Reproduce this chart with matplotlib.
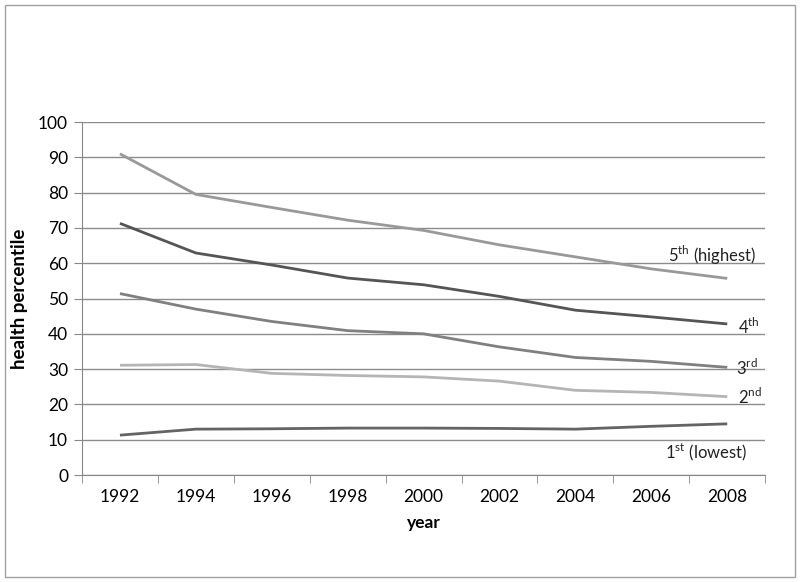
import matplotlib.pyplot as plt
from matplotlib.patches import Rectangle

years = ['1992', '1994', '1996', '1998', '2000', '2002', '2004', '2006', '2008']
q5 = [91.0, 79.5, 75.8, 72.2, 69.3, 65.2, 61.8, 58.4, 55.7]
q4 = [71.3, 62.9, 59.5, 55.8, 53.9, 50.6, 46.7, 44.8, 42.8]
q3 = [51.4, 47.0, 43.5, 40.9, 40.0, 36.3, 33.3, 32.2, 30.5]
q2 = [31.1, 31.3, 28.8, 28.2, 27.8, 26.6, 24.0, 23.4, 22.2]
q1 = [11.3, 13.0, 13.1, 13.3, 13.3, 13.2, 13.0, 13.8, 14.5]

plt.rcParams['font.family'] = ['Lato', 'DejaVu Sans']
plt.rcParams['mathtext.fontset'] = 'custom'
plt.rcParams['mathtext.rm'] = 'Lato'

fig = plt.figure(figsize=(8, 5.82), dpi=100)
fig.patches.append(Rectangle((0.006, 0.008), 0.988, 0.984, transform=fig.transFigure,
                             fill=False, edgecolor='#a0a0a0', linewidth=1))
ax = fig.add_axes([0.1025, 0.1838, 0.854, 0.6065])

x = list(range(len(years)))
series = [(q5, '#999999'), (q4, '#555555'), (q3, '#808080'), (q2, '#b5b5b5'), (q1, '#646464')]
for vals, col in series:
    ax.plot(x, vals, color=col, linewidth=2.0, solid_capstyle='butt')

ax.set_xlim(-0.5, len(years) - 0.5)
ax.set_ylim(0, 100)
ax.set_yticks(range(0, 101, 10))
ax.set_xticks(x)
ax.set_xticklabels(years, fontsize=12.5)
ax.set_xticks([i - 0.5 for i in range(len(years) + 1)], minor=True)
ax.tick_params(axis='x', which='major', length=0, pad=10)
ax.tick_params(axis='x', which='minor', length=6, color='#888888')
ax.tick_params(axis='y', length=6, color='#888888', labelsize=12.5, pad=4)
ax.grid(axis='y', color='#8c8c8c', linewidth=1)
ax.set_axisbelow(True)
for s in ['top', 'right']:
    ax.spines[s].set_visible(False)
for s in ['left', 'bottom']:
    ax.spines[s].set_color('#888888')

ax.set_xlabel('year', fontsize=12.5, fontweight='bold', labelpad=7)
ax.set_ylabel('health percentile', fontsize=13.5, fontweight='bold', labelpad=7)

labels = [(r'5$^{\mathrm{th}}$ (highest)', 7.8, 62.3),
          (r'4$^{\mathrm{th}}$', 8.28, 42.0),
          (r'3$^{\mathrm{rd}}$', 8.26, 30.3),
          (r'2$^{\mathrm{nd}}$', 8.3, 22.1),
          (r'1$^{\mathrm{st}}$ (lowest)', 7.72, 6.5)]
for txt, lx, ly in labels:
    ax.text(lx, ly, txt, fontsize=12, ha='center', va='center', color='#222222')

fig.savefig('out.png', dpi=100)
